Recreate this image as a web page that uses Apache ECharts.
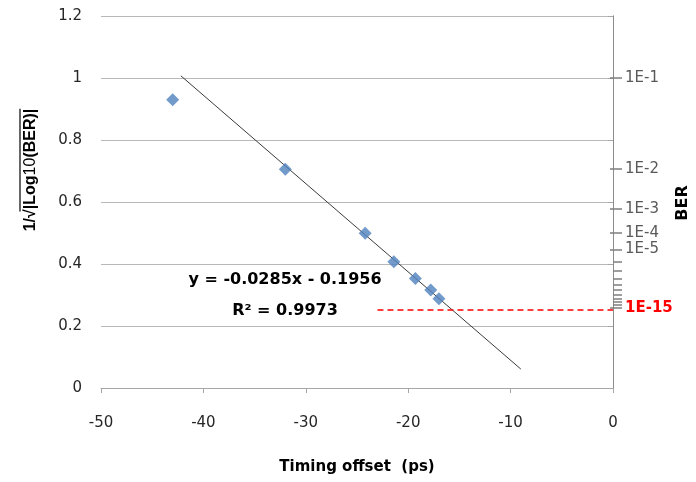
<!DOCTYPE html>
<html><head><meta charset="utf-8">
<script src="https://cdn.jsdelivr.net/npm/echarts@6/dist/echarts.min.js"></script>
<style>html,body{margin:0;padding:0;background:#fff}#c{width:696px;height:482px}</style>
</head><body><div id="c"></div>
<script>
const timingOffset = [-43.0, -32.0, -24.2, -21.4, -19.3, -17.8, -17.0];
const invSqrtLogBer = [0.930, 0.706, 0.499, 0.407, 0.353, 0.316, 0.288];
const trendX = [-42.2, -9.0];
const trendY = [1.007, 0.061];
const thresholdX = [-23.0, 0];
const thresholdY = [0.252, 0.252];
const berExponents = [1,2,3,4,5,6,7,8,9,10,11,12,13,14,15];
const berLabelExponents = [1,2,3,4,5,15];
const berHighlight = 15;
const xTicks = [-50,-40,-30,-20,-10,0];
const yTicks = [0,0.2,0.4,0.6,0.8,1,1.2];

const FONT = '"DejaVu Sans", sans-serif';
const LFONT = '"Liberation Sans", sans-serif';
const tickVal = n => 1/Math.sqrt(n);
const labelMap = {};
berLabelExponents.forEach(n => { labelMap[tickVal(n).toFixed(6)] = n; });

// y-axis title pieces (bold / normal), rotated, read bottom-to-top
const yTitleParts = [['1/', 'bold'], ['√', 'bold'], ['|Log', 'bold'], ['10', 'normal'], ['(BER)|', 'bold']];
const TSIZE = 16;
const ctx = document.createElement('canvas').getContext('2d');
const measure = (t, w) => { ctx.font = w + ' ' + TSIZE + 'px ' + LFONT; return ctx.measureText(t).width; };
const totalW = yTitleParts.reduce((s, p) => s + measure(p[0], p[1]), 0);
const yTitleGraphics = [];
let cursor = 170 + totalW / 2, overStart = 0;
yTitleParts.forEach((p, i) => {
  const w = measure(p[0], p[1]);
  yTitleGraphics.push({type: 'text', x: 30.5, y: cursor, rotation: Math.PI/2,
    style: {text: p[0], fontSize: TSIZE, fontWeight: p[1], fontFamily: LFONT, fill: '#000', align: 'left', verticalAlign: 'middle'}});
  if (i === 1) overStart = cursor - w * 0.75;
  cursor -= w;
});
yTitleGraphics.push({type: 'line', shape: {x1: 20, y1: overStart, x2: 20, y2: cursor}, style: {stroke: '#000', lineWidth: 1.2}});

const chart = echarts.init(document.getElementById('c'));
const axisGray = '#a6a6a6';
chart.setOption({
  animation: false,
  grid: {left: 101, right: 83, top: 16, bottom: 94},
  xAxis: {
    type: 'value', min: xTicks[0], max: xTicks[xTicks.length-1], interval: 10,
    axisLine: {onZero: false, lineStyle: {color: axisGray}},
    axisTick: {show: true, length: 5, lineStyle: {color: axisGray}},
    splitLine: {show: false},
    axisLabel: {color: '#262626', fontSize: 15, fontFamily: FONT, margin: 28}
  },
  yAxis: [{
    type: 'value', min: yTicks[0], max: yTicks[yTicks.length-1], interval: 0.2,
    axisLine: {show: true, lineStyle: {color: axisGray}},
    axisTick: {show: true, length: 5, lineStyle: {color: axisGray}},
    splitLine: {show: true, lineStyle: {color: '#b8b8b8'}},
    axisLabel: {color: '#262626', fontSize: 15, fontFamily: FONT, margin: 19}
  }, {
    type: 'value', min: 0, max: 1.2, position: 'right',
    axisLine: {show: true, lineStyle: {color: '#8c8c8c'}},
    axisTick: {show: true, length: 9, customValues: berExponents.map(tickVal), lineStyle: {color: '#7f7f7f', width: 1.5}},
    splitLine: {show: false},
    axisLabel: {
      show: true, customValues: berLabelExponents.map(tickVal), margin: 12,
      fontSize: 15, fontFamily: FONT, color: '#595959',
      formatter: v => {
        const n = labelMap[Number(v).toFixed(6)];
        if (n === undefined) return '';
        return n === berHighlight ? '{r|1E-' + n + '}' : '1E-' + n;
      },
      rich: {r: {color: '#ff0000', fontWeight: 'bold', fontSize: 15, fontFamily: FONT}}
    }
  }, {
    type: 'value', min: 0, max: 1.2, position: 'right',
    axisLine: {show: false},
    axisTick: {show: true, inside: true, length: 3, customValues: berLabelExponents.map(tickVal), lineStyle: {color: '#7f7f7f', width: 1.5}},
    splitLine: {show: false},
    axisLabel: {show: false}
  }],
  series: [{
    type: 'line', data: trendX.map((x, i) => [x, trendY[i]]),
    symbol: 'none', lineStyle: {color: '#3a3a3a', width: 1}, z: 2
  }, {
    type: 'line', data: thresholdX.map((x, i) => [x, thresholdY[i]]),
    symbol: 'none', lineStyle: {color: '#ff0000', width: 1.5, type: [6, 4]}, z: 2
  }, {
    type: 'scatter', data: timingOffset.map((x, i) => [x, invSqrtLogBer[i]]),
    symbol: 'diamond', symbolSize: 13, itemStyle: {color: '#4f81bd'}, z: 3
  }],
  graphic: [
    {type: 'text', x: 285, y: 280, style: {text: 'y = -0.0285x - 0.1956', fontSize: 16, fontWeight: 'bold', fontFamily: FONT, fill: '#000', align: 'center', verticalAlign: 'middle'}},
    {type: 'text', x: 285, y: 311, style: {text: 'R² = 0.9973', fontSize: 16, fontWeight: 'bold', fontFamily: FONT, fill: '#000', align: 'center', verticalAlign: 'middle'}},
    {type: 'text', x: 357, y: 467, style: {text: 'Timing offset  (ps)', fontSize: 15, fontWeight: 'bold', fontFamily: FONT, fill: '#000', align: 'center', verticalAlign: 'middle'}},
    {type: 'text', x: 683, y: 203, rotation: Math.PI/2, style: {text: 'BER', fontSize: 16, fontWeight: 'bold', fontFamily: FONT, fill: '#000', align: 'center', verticalAlign: 'middle'}}
  ].concat(yTitleGraphics)
});
</script></body></html>
